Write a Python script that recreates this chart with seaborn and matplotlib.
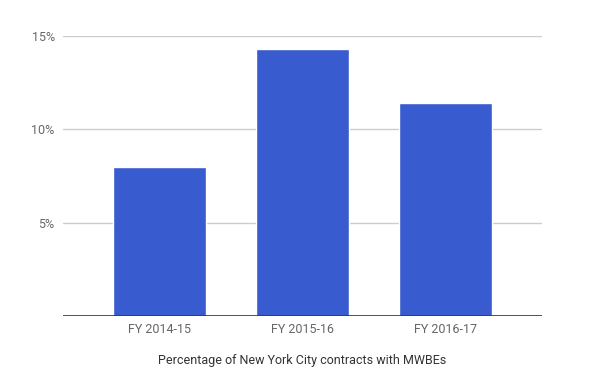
import matplotlib
matplotlib.use("Agg")
import matplotlib.pyplot as plt
import seaborn as sns
import pandas as pd

years = ["FY 2014-15", "FY 2015-16", "FY 2016-17"]
share = [8.0, 14.3, 11.4]
yticks = [5, 10, 15]

sns.set_style("white")
plt.rcParams["font.family"] = ["Roboto", "DejaVu Sans"]

df = pd.DataFrame({"year": years, "share": share})

fig = plt.figure(figsize=(5.9, 3.88), dpi=100)
ax = fig.add_axes([0.1068, 0.1856, 0.8118, 0.7216])

sns.barplot(data=df, x="year", y="share", color="#385ccf", saturation=1,
            width=0.65, ax=ax, zorder=3)

ax.set_xlim(-0.675, 2.675)
ax.set_ylim(0, 15)
ax.set_yticks(yticks)
ax.set_yticklabels([f"{t}%" for t in yticks])
ax.grid(axis="y", color="#cccccc", linewidth=1, zorder=0)
ax.axhline(0, color="#333333", linewidth=1.2, zorder=4)

for s in ax.spines.values():
    s.set_visible(False)
ax.tick_params(axis="both", length=0, labelsize=9, labelcolor="#666666")
ax.tick_params(axis="y", pad=6)
ax.tick_params(axis="x", pad=5)
ax.set_ylabel("")
ax.set_xlabel("Percentage of New York City contracts with MWBEs",
              fontsize=9, color="#333333", labelpad=13)

fig.savefig("out.png", dpi=100)
